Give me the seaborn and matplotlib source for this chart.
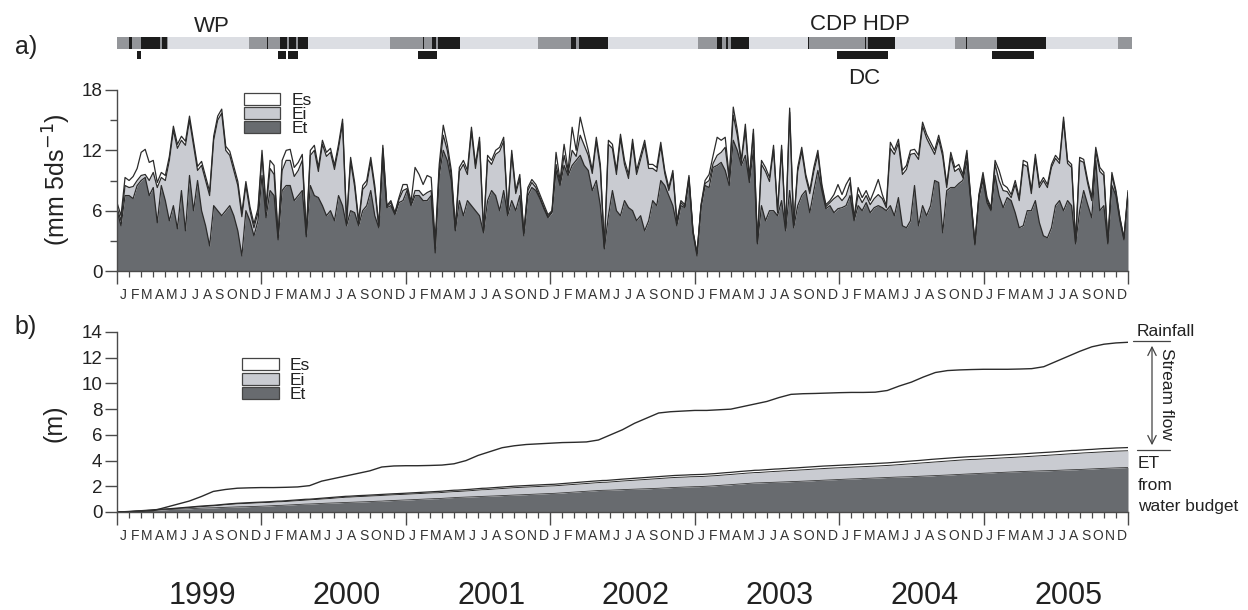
import numpy as np
import matplotlib
matplotlib.use("Agg")
import matplotlib.pyplot as plt
import seaborn as sns
from matplotlib.patches import Rectangle, FancyArrowPatch
from matplotlib.lines import Line2D
from matplotlib.transforms import blended_transform_factory
from matplotlib.ticker import FixedLocator, MultipleLocator, NullFormatter

# ---------------- data ----------------
years = [1999, 2000, 2001, 2002, 2003, 2004, 2005]
month_letters = ["J", "F", "M", "A", "M", "J", "J", "A", "S", "O", "N", "D"]
legend_labels = ["Es", "Ei", "Et"]

# panel a: ~10-day values (mm 5d-1), 36 per year; boundaries of the stack
et = [
    6.0, 4.5, 7.5, 7.5, 7.2, 8.5, 9.0, 9.3, 7.5, 8.3, 4.8, 8.5, 7.0, 5.0, 6.5, 4.2, 8.0, 4.0, 9.5, 6.0, 9.0, 6.0, 4.5, 2.5, 6.5, 6.0, 5.5, 6.0, 6.5, 5.5, 4.0, 1.5, 6.0, 5.0, 3.5, 5.0,
    9.5, 5.3, 8.0, 7.5, 3.1, 8.0, 8.5, 8.5, 7.0, 7.5, 8.0, 3.4, 8.5, 7.5, 7.3, 6.5, 5.5, 6.0, 5.0, 7.5, 6.5, 4.5, 6.0, 5.8, 4.5, 6.0, 6.5, 8.0, 5.5, 4.3, 11.0, 6.3, 6.5, 5.6, 6.8, 7.0,
    8.0, 6.5, 7.5, 7.5, 7.0, 7.0, 7.5, 1.8, 9.5, 12.0, 11.0, 9.0, 4.0, 7.0, 5.5, 7.0, 6.5, 6.0, 5.5, 3.8, 7.0, 8.0, 7.5, 6.0, 8.0, 5.5, 7.0, 6.0, 7.5, 3.5, 7.5, 8.3, 8.0, 7.2, 6.2, 5.3,
    5.8, 10.0, 8.5, 10.5, 9.5, 10.5, 11.0, 11.5, 10.5, 10.0, 8.0, 9.0, 6.5, 2.2, 5.5, 8.0, 6.0, 5.5, 7.0, 6.3, 6.0, 5.0, 5.5, 4.0, 5.0, 7.0, 6.5, 9.0, 8.5, 7.5, 6.5, 4.5, 6.5, 6.3, 9.0, 3.8,
    1.5, 6.3, 8.5, 8.3, 10.3, 10.5, 10.8, 10.0, 8.5, 13.0, 12.0, 10.5, 11.5, 8.8, 12.0, 2.7, 6.5, 5.0, 6.0, 6.0, 5.5, 7.0, 4.0, 8.0, 4.3, 6.5, 7.5, 8.0, 5.8, 8.0, 10.0, 8.0, 6.2, 6.5, 5.8, 6.2,
    6.3, 6.5, 7.5, 5.0, 6.5, 6.0, 6.8, 5.8, 6.3, 6.5, 6.3, 6.0, 6.5, 5.5, 7.3, 4.5, 4.3, 5.0, 8.5, 4.5, 6.5, 5.5, 6.5, 9.0, 8.8, 3.8, 8.0, 8.3, 8.3, 8.7, 9.0, 11.0, 6.8, 2.6, 7.3, 9.0,
    6.8, 6.0, 9.5, 7.5, 6.3, 7.3, 7.0, 5.8, 4.3, 4.5, 6.0, 6.0, 7.0, 4.8, 3.5, 3.3, 4.3, 6.5, 7.0, 6.0, 7.0, 6.5, 2.7, 6.0, 8.0, 6.6, 5.3, 11.0, 6.0, 6.5, 2.7, 8.5, 7.5, 5.0, 3.1, 7.6,
]
et_ei = [
    6.3, 5.0, 8.5, 8.3, 8.4, 9.0, 9.5, 9.6, 9.0, 9.8, 8.3, 9.3, 9.0, 11.0, 14.0, 12.2, 13.0, 12.5, 15.0, 12.5, 10.0, 10.5, 9.0, 7.5, 13.0, 15.0, 15.7, 12.0, 11.5, 10.0, 8.5, 5.4, 8.5, 6.0, 4.3, 5.8,
    11.5, 6.0, 10.2, 9.6, 3.3, 10.0, 11.0, 11.0, 9.4, 10.0, 11.0, 3.6, 11.5, 12.0, 9.9, 12.6, 11.4, 11.8, 10.1, 12.2, 14.7, 4.7, 10.9, 8.4, 4.7, 8.1, 8.6, 10.9, 8.1, 4.4, 12.2, 6.4, 6.8, 5.7, 7.1, 8.0,
    8.2, 6.6, 8.0, 8.0, 7.5, 7.8, 8.0, 2.2, 10.0, 13.5, 12.0, 9.5, 4.1, 9.9, 10.6, 9.6, 13.9, 10.2, 12.9, 3.9, 11.1, 10.6, 11.6, 11.9, 12.9, 5.8, 11.6, 7.7, 9.2, 3.7, 8.0, 8.8, 8.3, 7.3, 6.3, 5.4,
    5.9, 10.6, 8.7, 11.5, 9.7, 12.0, 11.4, 13.5, 12.5, 11.5, 9.7, 12.9, 10.2, 2.3, 12.6, 12.2, 9.6, 13.2, 10.6, 9.2, 12.7, 9.6, 11.1, 12.6, 10.2, 10.2, 9.9, 12.4, 9.7, 8.0, 9.7, 4.8, 6.8, 6.4, 9.3, 3.9,
    1.7, 6.5, 8.7, 9.0, 10.7, 11.5, 11.8, 12.3, 9.0, 15.5, 13.5, 10.8, 14.0, 9.1, 13.7, 2.8, 10.6, 9.9, 8.9, 12.1, 5.8, 12.1, 4.2, 15.8, 4.5, 9.9, 11.9, 9.3, 7.7, 9.9, 11.6, 8.3, 6.4, 6.8, 7.2, 7.5,
    7.0, 7.5, 8.8, 5.2, 7.6, 6.8, 7.5, 6.6, 7.2, 7.6, 7.2, 6.3, 12.2, 11.6, 12.7, 9.6, 10.1, 11.6, 11.7, 11.1, 14.4, 13.2, 12.4, 11.6, 13.1, 11.4, 8.3, 11.4, 9.9, 10.2, 9.3, 11.7, 7.0, 2.7, 7.5, 9.4,
    7.1, 6.1, 10.6, 9.0, 8.0, 7.9, 7.3, 8.6, 7.0, 10.6, 10.4, 7.7, 11.2, 8.3, 9.0, 8.3, 10.3, 11.2, 10.7, 14.9, 10.7, 10.3, 2.8, 11.0, 10.8, 8.7, 7.0, 11.9, 9.9, 9.5, 2.8, 9.5, 7.8, 5.2, 3.2, 7.8,
]
total = [
    6.8, 5.5, 9.3, 9.0, 9.4, 10.2, 11.8, 12.1, 10.8, 11.0, 8.8, 9.8, 9.5, 11.4, 14.4, 12.6, 13.4, 12.9, 15.4, 12.9, 10.4, 10.9, 9.4, 7.9, 13.4, 15.4, 16.1, 12.4, 11.9, 10.4, 8.9, 5.8, 8.9, 6.4, 4.7, 6.2,
    12.0, 6.5, 11.0, 10.5, 3.5, 11.0, 12.0, 12.1, 10.3, 10.8, 11.6, 3.8, 12.0, 12.5, 10.3, 13.0, 11.8, 12.2, 10.5, 12.6, 15.1, 5.0, 11.3, 8.8, 5.0, 8.5, 9.0, 11.3, 8.5, 4.5, 12.5, 6.5, 7.0, 5.8, 7.3, 8.6,
    8.6, 6.9, 10.3, 9.6, 8.6, 9.5, 9.3, 3.0, 10.6, 14.5, 12.6, 10.0, 4.3, 10.3, 11.0, 10.0, 14.3, 10.6, 13.3, 4.0, 11.5, 11.0, 12.0, 12.3, 13.3, 6.0, 12.0, 8.0, 9.6, 3.8, 8.3, 9.1, 8.6, 7.6, 6.6, 5.6,
    6.0, 11.8, 9.0, 12.6, 10.0, 14.3, 12.0, 15.3, 13.6, 12.0, 10.0, 13.3, 10.6, 2.4, 13.0, 12.6, 10.0, 13.6, 11.0, 9.6, 13.1, 10.0, 11.5, 13.0, 10.6, 10.6, 10.3, 12.8, 10.0, 8.3, 10.0, 5.0, 7.0, 6.6, 9.5, 4.0,
    1.8, 6.6, 9.0, 9.6, 11.5, 13.3, 13.0, 13.3, 9.3, 16.3, 14.0, 11.0, 14.6, 9.3, 14.1, 2.9, 11.0, 10.3, 9.3, 12.5, 6.0, 12.5, 4.3, 16.2, 4.6, 10.3, 12.3, 9.6, 8.0, 10.3, 12.0, 8.6, 6.6, 7.0, 7.6, 8.6,
    7.6, 8.6, 9.3, 5.3, 8.3, 7.3, 8.0, 7.0, 8.0, 9.1, 7.6, 6.5, 12.8, 12.0, 13.1, 10.0, 10.5, 12.0, 12.1, 11.5, 14.8, 13.6, 12.8, 12.0, 13.5, 11.8, 8.6, 11.8, 10.3, 10.6, 9.6, 12.0, 7.1, 2.8, 7.6, 9.8,
    7.3, 6.3, 11.0, 10.0, 8.6, 8.3, 7.6, 9.0, 7.3, 11.0, 10.8, 8.0, 11.6, 8.6, 9.3, 8.6, 10.6, 11.5, 11.0, 15.3, 11.0, 10.6, 2.9, 11.3, 11.1, 9.0, 7.3, 12.3, 10.3, 9.8, 2.9, 9.8, 8.0, 5.3, 3.3, 8.0,
]

# panel b: cumulative rainfall (m) at month ends, starting at 0 on 1 Jan 1999
rain_cum = [
    0.0,
    0.02, 0.05, 0.10, 0.35, 0.60, 0.85, 1.20, 1.60, 1.75, 1.85, 1.88, 1.90,
    1.90, 1.92, 1.95, 2.05, 2.40, 2.60, 2.80, 3.00, 3.20, 3.50, 3.58, 3.60,
    3.60, 3.62, 3.65, 3.75, 4.00, 4.40, 4.70, 5.00, 5.15, 5.25, 5.30, 5.35,
    5.40, 5.42, 5.45, 5.60, 6.00, 6.40, 6.90, 7.30, 7.70, 7.80, 7.85, 7.90,
    7.90, 7.95, 8.00, 8.20, 8.40, 8.60, 8.90, 9.15, 9.20, 9.22, 9.25, 9.28,
    9.30, 9.30, 9.32, 9.45, 9.80, 10.10, 10.50, 10.85, 11.00, 11.05, 11.08, 11.10,
    11.10, 11.10, 11.12, 11.15, 11.30, 11.70, 12.10, 12.50, 12.85, 13.05, 13.15, 13.20,
]

# top strip periods (decimal years)
season_grey = [(1999.00, 1999.353), (1999.913, 2000.322), (2000.889, 2001.374),
               (2001.913, 2002.398), (2003.021, 2003.374), (2003.789, 2004.391),
               (2004.806, 2005.436), (2005.934, 2006.03)]
season_black = [(1999.083, 1999.104), (1999.166, 1999.298), (1999.311, 1999.346),
                (2000.038, 2000.045), (2000.128, 2000.175), (2000.189, 2000.238), (2000.252, 2000.322),
                (2001.118, 2001.125), (2001.180, 2001.208), (2001.222, 2001.374),
                (2002.142, 2002.176), (2002.197, 2002.398),
                (2003.159, 2003.187), (2003.215, 2003.235), (2003.256, 2003.374),
                (2003.789, 2003.796), (2004.183, 2004.190), (2004.204, 2004.391),
                (2004.882, 2004.889), (2005.097, 2005.436)]
lower_black = [(1999.138, 1999.166), (2000.114, 2000.170), (2000.183, 2000.253),
               (2001.083, 2001.215), (2003.990, 2004.343), (2005.062, 2005.353)]

assert len(et) == len(et_ei) == len(total) == 252

# ---------------- style ----------------
sns.set_theme(style="ticks")
plt.rcParams["font.family"] = ["Liberation Sans", "DejaVu Sans"]

C_ET = "#686b6f"
C_EI = "#c9cbd1"
C_LINE = "#2b2b2b"
C_AX = "#4a4a4a"
C_TXT = "#222222"

W, H = 1248, 610
fig = plt.figure(figsize=(W / 100, H / 100), dpi=100)
fig.patch.set_facecolor("white")


def fbox(l, t, r, b):
    return [l / W, 1 - b / H, (r - l) / W, (b - t) / H]


def fx(px):
    return px / W


def fy(py):
    return 1 - py / H


ax_s = fig.add_axes(fbox(117, 37, 1132, 60))
ax_a = fig.add_axes(fbox(117, 90, 1128, 271))
ax_b = fig.add_axes(fbox(117, 332, 1128, 512))

# ---------------- strip ----------------
ax_s.set_xlim(1999, 2006.03)
ax_s.set_ylim(0, 1)
ax_s.axis("off")
ax_s.broken_barh([(1999.0, 7.03)], (0.5, 0.5), facecolors="#dcdee3", edgecolor="none")
ax_s.broken_barh([(a, b - a) for a, b in season_grey], (0.5, 0.5), facecolors="#94969a", edgecolor="none")
ax_s.broken_barh([(a, b - a) for a, b in season_black], (0.5, 0.5), facecolors="#1c1c1c", edgecolor="none")
ax_s.broken_barh([(a, b - a) for a, b in lower_black], (0.05, 0.35), facecolors="#1c1c1c", edgecolor="none")
fig.text(fx(212), fy(26), "WP", ha="center", va="center", fontsize=16, color=C_TXT)
fig.text(fx(860), fy(25), "CDP HDP", ha="center", va="center", fontsize=16, color=C_TXT)
fig.text(fx(864), fy(78), "DC", ha="center", va="center", fontsize=16, color=C_TXT)

# ---------------- panel a ----------------
x = np.linspace(1999, 2006, len(et))
et_a = np.array(et)
ei_a = np.array(et_ei) - et_a
es_a = np.array(total) - np.array(et_ei)
ax_a.stackplot(x, et_a, ei_a, es_a, colors=[C_ET, C_EI, "white"], linewidth=0)
for series in (total, et_ei, et):
    sns.lineplot(x=x, y=series, ax=ax_a, color=C_LINE, lw=0.9, estimator=None, sort=False, legend=False)
ax_a.set_xlim(1999, 2006)
ax_a.set_ylim(0, 18)
ax_a.set_yticks([0, 6, 12, 18])
ax_a.yaxis.set_minor_locator(FixedLocator([3, 9, 15]))

# ---------------- panel b ----------------
per_point = (365.25 / 36) / 5.0 / 1000.0  # mm per 5 d -> m per point
xb = np.linspace(1999, 2006, len(et) + 1)
c_et = np.concatenate([[0], np.cumsum(et_a) * per_point])
c_ei = np.concatenate([[0], np.cumsum(ei_a) * per_point])
c_es = np.concatenate([[0], np.cumsum(es_a) * per_point])
ax_b.stackplot(xb, c_et, c_ei, c_es, colors=[C_ET, C_EI, "white"], linewidth=0)
sns.lineplot(x=xb, y=c_et + c_ei + c_es, ax=ax_b, color=C_LINE, lw=0.9, estimator=None, sort=False, legend=False)
sns.lineplot(x=xb, y=c_et + c_ei, ax=ax_b, color=C_LINE, lw=0.7, estimator=None, sort=False, legend=False)
sns.lineplot(x=xb, y=c_et, ax=ax_b, color="#3a3a3a", lw=0.6, estimator=None, sort=False, legend=False)
xr = 1999 + np.arange(len(rain_cum)) / 12.0
sns.lineplot(x=xr, y=rain_cum, ax=ax_b, color=C_LINE, lw=1.0, estimator=None, sort=False, legend=False)
ax_b.set_xlim(1999, 2006)
ax_b.set_ylim(0, 14)
ax_b.set_yticks(range(0, 15, 2))

# ---------------- shared axis styling ----------------
year_ticks = list(range(1999, 2007))
month_ticks = [y + m / 12 for y in range(1999, 2006) for m in range(12)]
for ax in (ax_a, ax_b):
    ax.set_facecolor("white")
    for s in ("top", "right"):
        ax.spines[s].set_visible(False)
    for s in ("left", "bottom"):
        ax.spines[s].set_color(C_AX)
        ax.spines[s].set_linewidth(1.0)
    ax.xaxis.set_major_locator(FixedLocator(year_ticks))
    ax.xaxis.set_minor_locator(FixedLocator(month_ticks))
    ax.xaxis.set_major_formatter(NullFormatter())
    ax.tick_params(axis="x", which="major", length=9, width=1.0, color=C_AX, direction="out")
    ax.tick_params(axis="x", which="minor", length=4.5, width=0.9, color=C_AX, direction="out")
    ax.tick_params(axis="y", which="major", length=8.5, width=1.0, color=C_AX, direction="out",
                   labelsize=13.5, labelcolor=C_TXT, pad=2)
    ax.tick_params(axis="y", which="minor", length=5, width=1.0, color=C_AX, direction="out")
    ax.set_xlabel("")
    ax.set_ylabel("")
    for yr in years:
        for m, letter in enumerate(month_letters):
            ax.annotate(letter, xy=(yr + (m + 0.5) / 12, 0), xycoords=("data", "axes fraction"),
                        xytext=(0, -17), textcoords="offset points", ha="center", va="center",
                        fontsize=10, color="#333333")

# y labels and panel letters
fig.text(fx(57), fy(180), "(mm 5ds$^{-1}$)", rotation=90, ha="center", va="center", fontsize=18, color=C_TXT)
fig.text(fx(55), fy(423), "(m)", rotation=90, ha="center", va="center", fontsize=18, color=C_TXT)
fig.text(fx(26), fy(47), "a)", ha="center", va="center", fontsize=18, color=C_TXT)
fig.text(fx(26), fy(327), "b)", ha="center", va="center", fontsize=18, color=C_TXT)

# year labels
tr_year = blended_transform_factory(ax_b.transData, fig.transFigure)
for yr in years:
    ax_b.text(yr + 0.59, fy(596), str(yr), transform=tr_year, ha="center", va="center",
              fontsize=22, color=C_TXT)


# legends (manual, stacked boxes)
def draw_legend(x0, x1, tops, label_x):
    fills = ["white", C_EI, C_ET]
    for (t, b), fc, lab in zip(tops, fills, legend_labels):
        fig.add_artist(Rectangle((fx(x0), fy(b)), fx(x1) - fx(x0), fy(t) - fy(b),
                                 transform=fig.transFigure, facecolor=fc, edgecolor="#444444", lw=0.9))
        fig.text(fx(label_x), fy((t + b) / 2 + 1.5), lab, ha="left", va="center", fontsize=12.5, color=C_TXT)


draw_legend(244, 280, [(93, 105), (107, 119), (121, 133)], 292)
draw_legend(242, 279, [(358, 370), (373, 385), (387, 399)], 290)

# right-hand annotations of panel b
fig.text(fx(1137), fy(331), "Rainfall", ha="left", va="center", fontsize=12.5, color=C_TXT)
fig.add_artist(Line2D([fx(1133), fx(1170)], [fy(341), fy(341)], transform=fig.transFigure, color="#444444", lw=0.9))
fig.add_artist(Line2D([fx(1137), fx(1170)], [fy(450), fy(450)], transform=fig.transFigure, color="#444444", lw=0.9))
fig.add_artist(FancyArrowPatch((fx(1152), fy(343)), (fx(1152), fy(448)), transform=fig.transFigure,
                               arrowstyle="<->,head_length=6,head_width=3", color="#444444", lw=0.9))
fig.text(fx(1166), fy(394), "Stream flow", rotation=270, ha="center", va="center", fontsize=12.5, color=C_TXT)
fig.text(fx(1138), fy(464), "ET", ha="left", va="center", fontsize=12.5, color=C_TXT)
fig.text(fx(1138), fy(486), "from", ha="left", va="center", fontsize=12.5, color=C_TXT)
fig.text(fx(1138), fy(507), "water budget", ha="left", va="center", fontsize=12.5, color=C_TXT)

fig.savefig("out.png", dpi=100, facecolor="white")
